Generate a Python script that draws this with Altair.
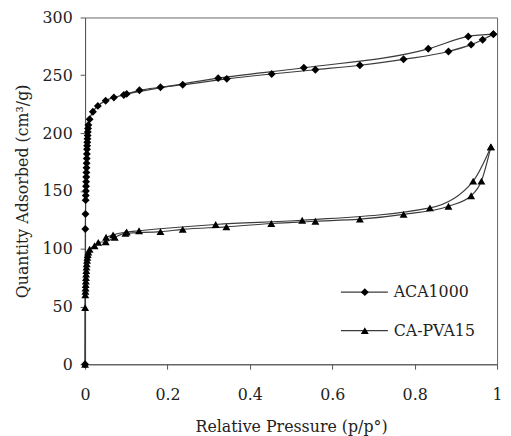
import altair as alt
import pandas as pd

# ---------------- data ----------------
series_names = ["ACA1000", "CA-PVA15"]

aca_ads_x = [0.0, 0.0006, 0.0010, 0.0014, 0.0017, 0.0020, 0.0023, 0.0026, 0.0029, 0.0032,
             0.0035, 0.0038, 0.0041, 0.0044, 0.0047, 0.0050, 0.0054, 0.0058, 0.0062, 0.0066,
             0.0072, 0.0080, 0.011, 0.019, 0.031, 0.050, 0.070, 0.094, 0.132, 0.183, 0.237,
             0.344, 0.453, 0.559, 0.667, 0.773, 0.882, 0.937, 0.965, 0.991]
aca_ads_y = [0, 117, 130, 142, 146, 150, 154, 158, 162, 166,
             170, 174, 178, 182, 186, 189, 192, 195, 198, 201,
             204, 207, 212, 218.4, 223.5, 228, 230.8, 233, 237, 239.6, 241.8,
             246.9, 251.1, 254.8, 258.7, 263.8, 270.6, 276.5, 280.8, 285.6]

aca_des_x = [0.101, 0.323, 0.531, 0.833, 0.930, 0.991]
aca_des_y = [233.9, 247.5, 256.5, 272.9, 283.6, 285.6]

pva_ads_x = [0.0, 0.0002, 0.0006, 0.0009, 0.0012, 0.0015, 0.0018, 0.0022, 0.0026, 0.0030,
             0.0035, 0.0040, 0.0048, 0.0056, 0.0065, 0.0080, 0.011, 0.023, 0.032, 0.050,
             0.072, 0.098, 0.183, 0.237, 0.343, 0.452, 0.559, 0.667, 0.773, 0.882,
             0.937, 0.962, 0.985]
pva_ads_y = [0, 49, 60, 63, 66, 69, 72, 75, 78, 81,
             84, 87, 90, 92.5, 95, 97, 99.5, 102.5, 105.5, 106,
             109.9, 113.3, 114.7, 116.7, 118.9, 121.8, 123.7, 125.5, 129.7, 136.7,
             145.8, 158.5, 188]

pva_des_x = [0.051, 0.068, 0.101, 0.131, 0.317, 0.527, 0.837, 0.942, 0.985]
pva_des_y = [109.9, 111.9, 114.4, 115.5, 120.9, 124.6, 135.3, 158.5, 188]

x_ticks = [0, 0.2, 0.4, 0.6, 0.8, 1]
y_ticks = [0, 50, 100, 150, 200, 250, 300]

# ---------------- table ----------------
rows = []
def add(series, branch, xs, ys):
    for i, (a, b) in enumerate(zip(xs, ys)):
        rows.append({"series": series, "key": series + "-" + branch, "idx": i, "x": a, "y": b})

add(series_names[0], "ads", aca_ads_x, aca_ads_y)
add(series_names[0], "des", aca_des_x, aca_des_y)
add(series_names[1], "ads", pva_ads_x, pva_ads_y)
add(series_names[1], "des", pva_des_x, pva_des_y)
df = pd.DataFrame(rows)

FONT = "DejaVu Serif"
FS = 16
TXT = "#222222"
LINE = "#3c3c3c"
MSIZE = 64

x_scale = alt.Scale(domain=[0, 1], nice=False, zero=False)
y_scale = alt.Scale(domain=[0, 300], nice=False)
shape_scale = alt.Scale(domain=series_names, range=["diamond", "triangle-up"])

x_enc = alt.X("x:Q", scale=x_scale,
              axis=alt.Axis(values=x_ticks, format="~g", title="Relative Pressure (p/p°)",
                            tickSize=5, labelPadding=18, titlePadding=16, labelFlush=False))
y_enc = alt.Y("y:Q", scale=y_scale,
              axis=alt.Axis(values=y_ticks, title="Quantity Adsorbed (cm³/g)",
                            tickSize=5, labelPadding=8, titlePadding=12))

base = alt.Chart(df)
lines = base.mark_line(interpolate="monotone", color=LINE, strokeWidth=1.2).encode(
    x=x_enc, y=y_enc, detail="key:N", order="idx:Q")
points = base.mark_point(filled=True, color="black", size=MSIZE, opacity=1).encode(
    x="x:Q", y="y:Q",
    shape=alt.Shape("series:N", scale=shape_scale, legend=None))

# ---------------- manual legend ----------------
leg = pd.DataFrame({"series": series_names, "ly": [62.4, 29.1]})
LX1, LX2, LXP, LXT = 0.621, 0.735, 0.679, 0.749
lbase = alt.Chart(leg)
leg_rule = lbase.mark_rule(color=LINE, strokeWidth=1.2).encode(
    x=alt.datum(LX1), x2=alt.datum(LX2), y="ly:Q")
leg_pts = lbase.mark_point(filled=True, color="black", size=MSIZE, opacity=1).encode(
    x=alt.datum(LXP), y="ly:Q",
    shape=alt.Shape("series:N", scale=shape_scale, legend=None))
leg_txt = lbase.mark_text(align="left", baseline="middle", font=FONT, fontSize=FS,
                          color=TXT).encode(x=alt.datum(LXT), y="ly:Q", text="series:N")

chart = alt.layer(lines, points, leg_rule, leg_pts, leg_txt).properties(
    width=417, height=351,
    autosize=alt.AutoSizeParams(type="none"),
    padding={"left": 78, "top": 7, "right": 6, "bottom": 70},
).configure_view(stroke="#666666", strokeWidth=1).configure_axis(
    grid=False, domainColor="#555555", tickColor="#555555",
    labelFont=FONT, labelFontSize=FS, labelColor=TXT,
    titleFont=FONT, titleFontSize=FS, titleFontWeight="normal", titleColor=TXT,
)

chart.save("out.html", embed_options={"renderer": "svg", "actions": False})
